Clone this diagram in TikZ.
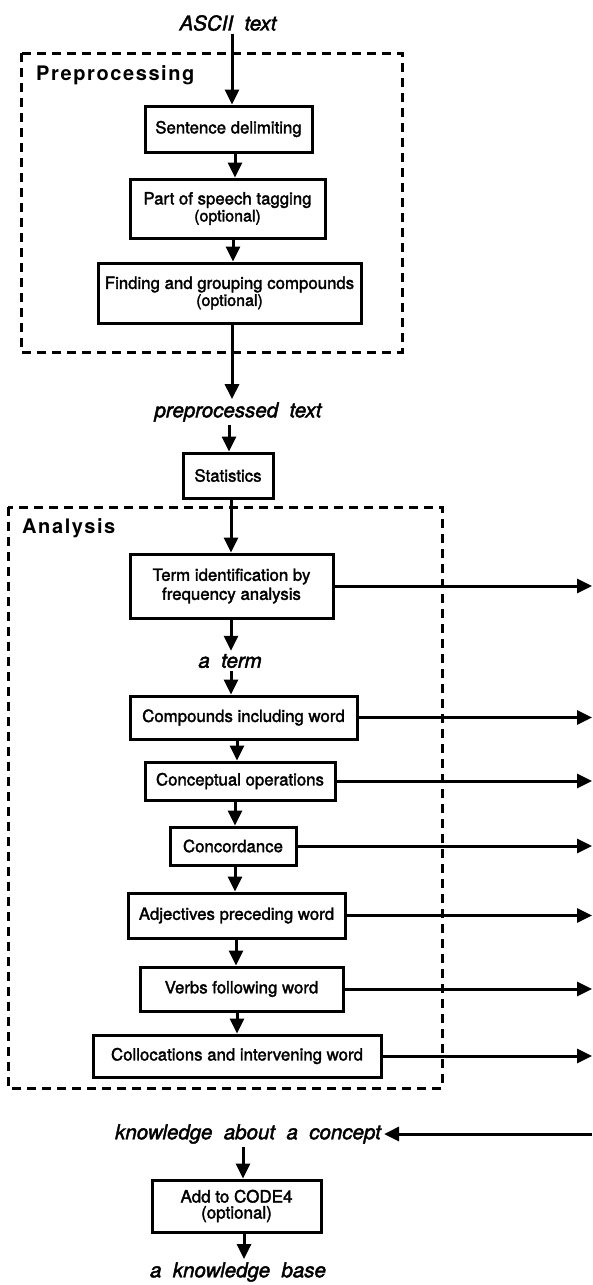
\documentclass[tikz,border=0pt]{standalone}
\usepackage{fontspec}
\setmainfont{TeX Gyre Heros}
\newfontfamily\heavyfont[FakeBold=2]{TeX Gyre Heros}
\newfontfamily\headfont[LetterSpace=8]{TeX Gyre Heros}
\usetikzlibrary{arrows.meta}

\tikzset{
 proc/.style={draw, line width=3pt, inner sep=0pt, align=center, font=\fontsize{16.8}{19}\selectfont\heavyfont},
 flow/.style={line width=3pt, -{Triangle[width=14pt,length=15pt]}},
 data/.style={font=\fontsize{20.5}{23}\selectfont\heavyfont\itshape, inner sep=3pt},
 grp/.style={line width=3pt, dash pattern=on 9pt off 6pt},
 grptitle/.style={anchor=west, inner sep=0pt, font=\fontsize{20}{22}\selectfont\headfont\bfseries}
}
\newcommand{\opt}{\\[-2pt]{\fontsize{16}{18}\selectfont (optional)}}

\begin{document}
\begin{tikzpicture}[x=1pt,y=-1pt]
 \useasboundingbox (0,0) rectangle (592,1285);
 % groups
 \draw[grp] (21,53) rectangle (402,352);
 \draw[grp] (8,507) rectangle (442,1088);
 \node[grptitle] (pretitle) at (36,75) {Preprocessing};
 \node[grptitle] (antitle) at (22,528) {Analysis};
 % data
 \node[data] (ascii) at (228,23) {ASCII\ \ text};
 \node[data] (prep) at (238,412) {preprocessed\ \ text};
 \node[data] (aterm) at (230,661) {a\ \ term};
 \node[data] (know) at (248,1134) {knowledge\ \ about\ \ a\ \ concept};
 \node[data] (kb) at (238,1272) {a\ \ knowledge\ \ base};
 % steps
 \node[proc,minimum width=167,minimum height=46] (sent) at (228.5,129) {Sentence delimiting};
 \node[proc,minimum width=195,minimum height=59] (pos) at (227.5,208.5) {Part of speech tagging\opt};
 \node[proc,minimum width=263,minimum height=60] (find) at (229.5,293) {Finding and grouping compounds\opt};
 \node[proc,minimum width=90,minimum height=45] (stat) at (228,475.5) {Statistics};
 \node[proc,minimum width=203,minimum height=64] (term) at (231.5,586) {Term identification by\\frequency analysis};
 \node[proc,minimum width=227,minimum height=43] (comp) at (243.5,717.5) {Compounds including word};
 \node[proc,minimum width=190,minimum height=38] (conc) at (240,781) {Conceptual operations};
 \node[proc,minimum width=126,minimum height=38] (cord) at (233,846) {Concordance};
 \node[proc,minimum width=217,minimum height=45] (adj) at (236.5,915.5) {Adjectives preceding word};
 \node[proc,minimum width=203,minimum height=44] (verb) at (241.5,989) {Verbs following word};
 \node[proc,minimum width=288,minimum height=42] (coll) at (237,1056) {Collocations and intervening word};
 \node[proc,minimum width=169,minimum height=52,font=\fontsize{17}{16}\selectfont\heavyfont] (add) at (236.5,1206) {Add to CODE4\\(optional)};
 \coordinate (rim) at (592,0);
 % main flow
 \draw[flow] (ascii.south -| 232,0) -- (sent.north -| 232,0);
 \draw[flow] (sent.south -| 235,0) -- (pos.north -| 235,0);
 \draw[flow] (pos.south -| 233,0) -- (find.north -| 233,0);
 \draw[flow] (find.south -| 232,0) -- (prep.north -| 232,0);
 \draw[flow] (prep.south -| 229,0) -- (stat.north -| 229,0);
 \draw[flow] (stat.south -| 231,0) -- (term.north -| 231,0);
 \draw[flow] (term.south -| 231,0) -- (aterm.north -| 231,0);
 \draw[flow] (aterm.south -| 231,0) -- (comp.north -| 231,0);
 \draw[flow] (comp.south -| 237,0) -- (conc.north -| 237,0);
 \draw[flow] (conc.south -| 235,0) -- (cord.north -| 235,0);
 \draw[flow] (cord.south -| 235,0) -- (adj.north -| 235,0);
 \draw[flow] (adj.south -| 236,0) -- (verb.north -| 236,0);
 \draw[flow] (verb.south -| 237,0) -- (coll.north -| 237,0);
 \draw[flow] (know.south -| 243,0) -- (add.north -| 243,0);
 \draw[flow] (add.south -| 244,0) -- (kb.north -| 244,0);
 % results out to the right
 \draw[flow] (term.east) -- (term.east -| rim);
 \draw[flow] (comp.east) -- (comp.east -| rim);
 \draw[flow] (conc.east) -- (conc.east -| rim);
 \draw[flow] (cord.east) -- (cord.east -| rim);
 \draw[flow] (adj.east) -- (adj.east -| rim);
 \draw[flow] (verb.east) -- (verb.east -| rim);
 \draw[flow] (coll.east) -- (coll.east -| rim);
 \draw[flow] (know.east -| rim) -- (know.east);
\end{tikzpicture}
\end{document}
